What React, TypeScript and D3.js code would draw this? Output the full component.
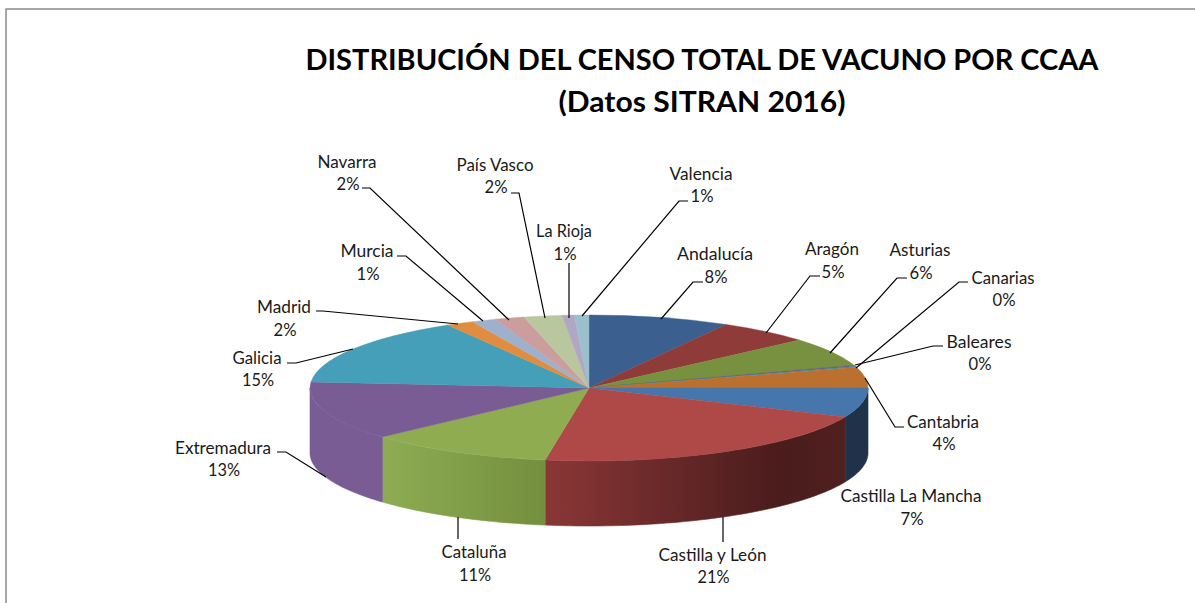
import React from "react";
import * as d3 from "d3";

// ---- data ----
const regions = ["Andalucía","Aragón","Asturias","Baleares","Canarias","Cantabria","Castilla La Mancha","Castilla y León","Cataluña","Extremadura","Galicia","Madrid","Murcia","Navarra","País Vasco","La Rioja","Valencia"];
const shares = [8.17,5.4,6.4,0.22,0.22,4.55,6.5,21,10.75,13.05,15.2,1.6,1.4,1.7,2.2,0.7,0.84];
const shareLabels = ["8%","5%","6%","0%","0%","4%","7%","21%","11%","13%","15%","2%","1%","2%","2%","1%","1%"];

const titleLines = ["DISTRIBUCIÓN DEL CENSO TOTAL DE VACUNO POR CCAA", "(Datos SITRAN 2016)"];

// ---- style ----
const topColors = ["#3b608f","#8f3b39","#779140","#634d80","#3d8a9e","#bb7030","#4776ac","#ae4947","#8fac51","#785c93","#469fb8","#e08d40","#9fb0cc","#cb9d9c","#b9c79f","#b0a7c4","#9bbfcd"];
const sideStops: Record<string, [number, string][]> = {
  "Castilla La Mancha": [[0, "#1f3249"], [1, "#1f3249"]],
  "Castilla y León": [[0, "#8a3736"], [0.78, "#4a1c1c"], [1, "#4f201f"]],
  "Cataluña": [[0, "#8dac52"], [1, "#748f3f"]],
  "Extremadura": [[0, "#785c93"], [1, "#785c93"]],
};

// ---- layout: [label x, name baseline, value baseline, name width] ----
const labelLayout: Record<string, number[]> = {
  "Andalucía": [715,260,283,76], "Aragón": [832,255,278,54], "Asturias": [920,256,279,61],
  "Baleares": [979,348,370,65], "Canarias": [1003,284,306,63], "Cantabria": [943,428,450,72],
  "Castilla La Mancha": [911,502,525,141], "Castilla y León": [712.5,561,583,108], "Cataluña": [474,558,581,65],
  "Extremadura": [223,454,476,96], "Galicia": [257,364,386,49], "Madrid": [284,313,336,54],
  "Murcia": [367,257,280,53], "Navarra": [347,168,190,59], "País Vasco": [495,171,193,77],
  "La Rioja": [564,237,260,56], "Valencia": [701,180,202,63],
};
const leaderPoints: Record<string, [number, number][]> = {
  "Andalucía": [[703,282],[693,282],[661,319]], "Aragón": [[820,276],[810,276],[766,333]],
  "Asturias": [[907,278],[897,278],[830,353]], "Baleares": [[943,346],[933,346],[855,365]],
  "Canarias": [[968,282],[959,282],[856,368]], "Cantabria": [[904,427],[895,427],[865,378]],
  "Castilla y León": [[723,517],[723,542]], "Cataluña": [[458,517],[458,539]],
  "Extremadura": [[277,452],[286,452],[326,477]], "Galicia": [[287,363],[296,363],[353,349]],
  "Madrid": [[316,311],[323,311],[458,324]], "Murcia": [[397,256],[406,256],[483,321]],
  "Navarra": [[362,188],[370,188],[509,320]], "País Vasco": [[511,193],[519,193],[545,318]],
  "La Rioja": [[569,263],[569,318]], "Valencia": [[688,201],[679,201],[582,316]],
};

const W = 1195, H = 603;
const cx = 589, cy = 388, rx = 279, ry = 73, depth = 65;
const FONT = "Lato, 'Open Sans', sans-serif";

const arcs = d3.pie<number>().sort(null)(shares);
const arcPath = d3.arc<d3.PieArcDatum<number>>().innerRadius(0).outerRadius(100);
const leaderLine = d3.line();

const px = (a: number) => cx + rx * Math.sin(a);
const py = (a: number) => cy - ry * Math.cos(a);

function sidePath(a0: number, a1: number) {
  const lo = Math.max(a0, Math.PI / 2), hi = Math.min(a1, (3 * Math.PI) / 2);
  if (hi <= lo) return null;
  const t = d3.scaleLinear().domain([0, 60]).range([lo, hi]);
  const steps = d3.range(61).map((i) => t(i));
  const top = steps.map((a) => [px(a), py(a)] as [number, number]);
  const bottom = steps.slice().reverse().map((a) => [px(a), py(a) + depth] as [number, number]);
  return leaderLine(top.concat(bottom)) + "Z";
}

export default function App() {
  return (
    <svg width={W} height={H} viewBox={`0 0 ${W} ${H}`} style={{ position: "absolute", left: 0, top: 0, display: "block", background: "#fff" }}>
      <defs>
        {regions.map((r, i) =>
          sideStops[r] ? (
            <linearGradient id={`side${i}`} key={r} x1="0" x2="1" y1="0" y2="0">
              {sideStops[r].map(([o, c]) => <stop key={o} offset={o} stopColor={c} />)}
            </linearGradient>
          ) : null
        )}
      </defs>

      <path d={`M6,${H}V9H${W}`} fill="none" stroke="#8c8c8c" strokeWidth={1.5} />

      <g fontFamily={FONT} fontWeight={700} fontSize={29} fill="#000" textAnchor="middle">
        <text x={702} y={70} textLength={793} lengthAdjust="spacingAndGlyphs">{titleLines[0]}</text>
        <text x={702} y={112} textLength={287} lengthAdjust="spacingAndGlyphs">{titleLines[1]}</text>
      </g>

      <g>
        {arcs.map((d, i) => {
          const p = sidePath(d.startAngle, d.endAngle);
          return p ? <path key={regions[i]} d={p} fill={`url(#side${i})`} stroke={`url(#side${i})`} strokeWidth={0.6} /> : null;
        })}
      </g>
      <g transform={`translate(${cx},${cy}) scale(${rx / 100},${ry / 100})`}>
        {arcs.map((d, i) => (
          <path key={regions[i]} d={arcPath(d) as string} fill={topColors[i]} stroke={topColors[i]} strokeWidth={0.4} vectorEffect="non-scaling-stroke" />
        ))}
      </g>

      <g fill="none" stroke="#000" strokeWidth={1.2}>
        {regions.filter((r) => leaderPoints[r]).map((r) => (
          <path key={r} d={leaderLine(leaderPoints[r]) as string} />
        ))}
      </g>

      <g fontFamily={FONT} fontSize={16.5} fill="#1a1a1a" textAnchor="middle">
        {regions.map((r, i) => {
          const [x, y1, y2, w] = labelLayout[r];
          return (
            <g key={r}>
              <text x={x} y={y1} textLength={w} lengthAdjust="spacingAndGlyphs">{r}</text>
              <text x={x + 1} y={y2} textLength={shareLabels[i].length === 3 ? 32 : 23} lengthAdjust="spacingAndGlyphs">{shareLabels[i]}</text>
            </g>
          );
        })}
      </g>
    </svg>
  );
}
